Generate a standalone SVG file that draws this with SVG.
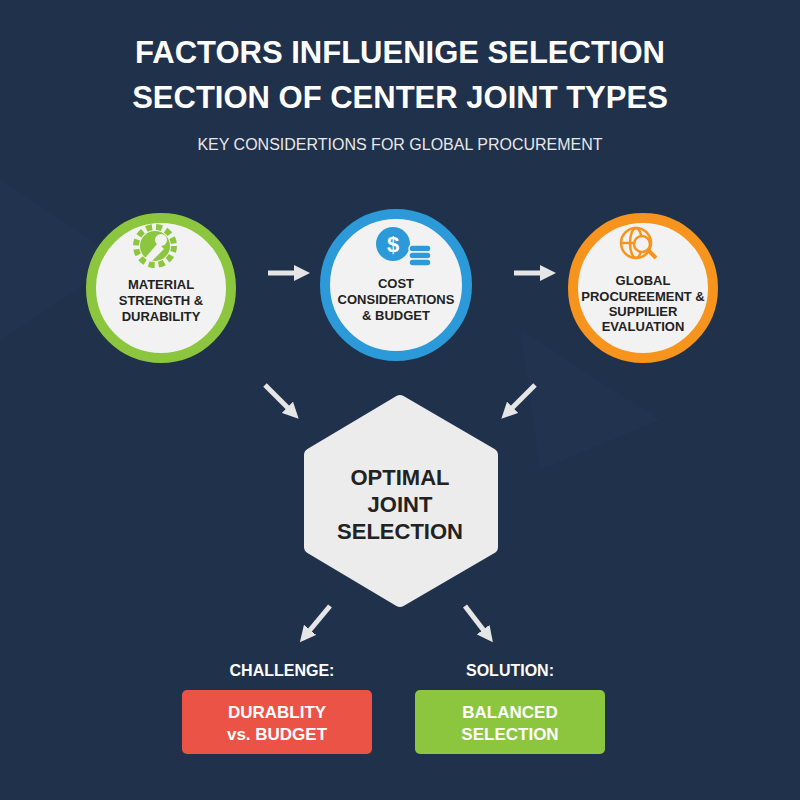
<svg xmlns="http://www.w3.org/2000/svg" width="800" height="800" viewBox="0 0 800 800">
<defs>
<style>
.t{font-family:"Liberation Sans",Arial,sans-serif;font-weight:bold;text-anchor:middle}
.n{font-family:"Liberation Sans",Arial,sans-serif;font-weight:bold;text-anchor:middle;font-size:13px;fill:#222}
.a{stroke:#e6e6e6;stroke-width:5;fill:none}
</style>
<marker id="ah" viewBox="0 0 10 10" refX="5" refY="5" markerWidth="3.2" markerHeight="3.2" orient="auto"><path d="M0,0L10,5L0,10z" fill="#e6e6e6"/></marker>
</defs>
<rect width="800" height="800" fill="#1f314b"/>
<path d="M0,180L120,260L0,340z M520,330L660,420L540,470z" fill="#233650" opacity="0.6"/>
<text class="t" x="400" y="63" font-size="31" fill="#fff">FACTORS INFLUENIGE SELECTION</text>
<text class="t" x="400" y="108" font-size="31" fill="#fff">SECTION OF CENTER JOINT TYPES</text>
<text x="400" y="150" font-family="Liberation Sans,Arial,sans-serif" font-size="16" fill="#e8e8e8" text-anchor="middle">KEY CONSIDERTIONS FOR GLOBAL PROCUREMENT</text>
<g id="connectors">
<path class="a" d="M268,273H302" marker-end="url(#ah)"/>
<path class="a" d="M514,273H548" marker-end="url(#ah)"/>
<path class="a" d="M265,385L293,413" marker-end="url(#ah)"/>
<path class="a" d="M535,385L507,413" marker-end="url(#ah)"/>
<path class="a" d="M330,606L305,636" marker-end="url(#ah)"/>
<path class="a" d="M465,606L488,636" marker-end="url(#ah)"/>
</g>
<g id="material">
<circle cx="161" cy="288" r="70" fill="#f2f2f2" stroke="#8cc63f" stroke-width="10"/>
<g fill="#8cc63f"><circle cx="155" cy="246" r="15"/><circle cx="155" cy="246" r="19" fill="none" stroke="#8cc63f" stroke-width="6" stroke-dasharray="6 4"/><path d="M145,258L158,243L164,249L151,262z" fill="#f2f2f2"/><circle cx="161" cy="240" r="6" fill="#f2f2f2"/></g>
<text class="n" x="161" y="289">MATERIAL</text><text class="n" x="161" y="305">STRENGTH &amp;</text><text class="n" x="161" y="321">DURABILITY</text>
</g>
<g id="cost">
<circle cx="396" cy="285" r="71" fill="#f2f2f2" stroke="#2c9ad8" stroke-width="10"/>
<circle cx="393" cy="244" r="17" fill="#2c9ad8"/><text class="t" x="393" y="252" font-size="22" fill="#fff">$</text>
<g fill="#2c9ad8" stroke="#f2f2f2" stroke-width="1.5"><rect x="409" y="245" width="22" height="7" rx="3.5"/><rect x="409" y="252" width="22" height="7" rx="3.5"/><rect x="409" y="259" width="22" height="7" rx="3.5"/></g>
<text class="n" x="396" y="288">COST</text><text class="n" x="396" y="304">CONSIDERATIONS</text><text class="n" x="396" y="320">&amp; BUDGET</text>
</g>
<g id="global">
<circle cx="643" cy="288" r="70" fill="#f2f2f2" stroke="#f7941d" stroke-width="10"/>
<g fill="none" stroke="#f7941d" stroke-width="2.5"><circle cx="636" cy="243" r="15"/><ellipse cx="636" cy="243" rx="6" ry="15"/><path d="M621,243H651"/><circle cx="642" cy="244" r="8" fill="#f2f2f2"/><path d="M648,250L656,258" stroke-width="4"/></g>
<text class="n" x="643" y="285">GLOBAL</text><text class="n" x="643" y="301">PROCUREEMENT &amp;</text><text class="n" x="643" y="316">SUPPILIER</text><text class="n" x="643" y="331">EVALUATION</text>
</g>
<g id="optimal">
<path d="M400,402L491,455V547L400,600L311,547V455z" fill="#ececec" stroke="#ececec" stroke-width="14" stroke-linejoin="round"/>
<text class="t" x="400" y="485" font-size="22" fill="#222">OPTIMAL</text><text class="t" x="400" y="512" font-size="22" fill="#222">JOINT</text><text class="t" x="400" y="539" font-size="22" fill="#222">SELECTION</text>
</g>
<g id="challenge">
<text class="t" x="282" y="676" font-size="16" fill="#fff">CHALLENGE:</text>
<rect x="182" y="690" width="190" height="64" rx="5" fill="#ea5345"/>
<text class="t" x="277" y="718" font-size="17" fill="#fff">DURABLITY</text><text class="t" x="277" y="740" font-size="17" fill="#fff">vs. BUDGET</text>
</g>
<g id="solution">
<text class="t" x="510" y="676" font-size="16" fill="#fff">SOLUTION:</text>
<rect x="415" y="690" width="190" height="64" rx="5" fill="#8cc63f"/>
<text class="t" x="510" y="718" font-size="17" fill="#fff">BALANCED</text><text class="t" x="510" y="740" font-size="17" fill="#fff">SELECTION</text>
</g>
</svg>
